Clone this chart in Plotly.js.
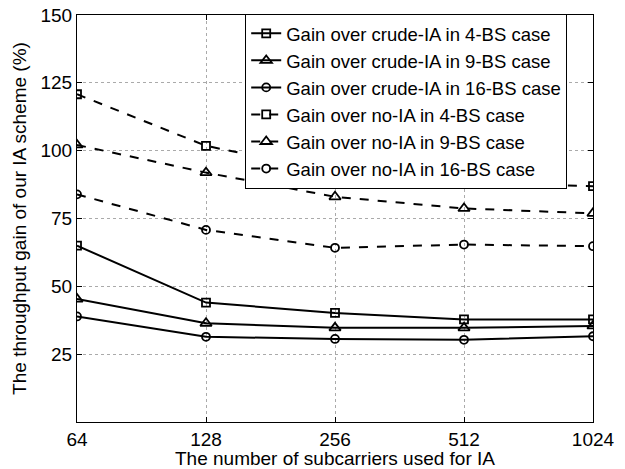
<!DOCTYPE html>
<html><head><meta charset="utf-8">
<script src="https://cdn.plot.ly/plotly-3.0.1.min.js"></script>
<style>body{margin:0;background:#fff}#c{width:625px;height:469px}</style>
</head><body><div id="c"></div>
<script>
const categories = ['64','128','256','512','1024'];
const crude4 = [65, 44, 40.2, 37.8, 37.8];
const crude9 = [45.3, 36.4, 34.7, 34.7, 35.4];
const crude16 = [38.9, 31.4, 30.6, 30.3, 31.6];
const noia4 = [120.8, 101.8, 91.9, 88.3, 86.9];
const noia9 = [102.1, 91.9, 83, 78.7, 76.9];
const noia16 = [83.9, 70.8, 64.2, 65.4, 64.8];
const names = ['Gain over crude-IA in 4-BS case','Gain over crude-IA in 9-BS case','Gain over crude-IA in 16-BS case',
  'Gain over no-IA in 4-BS case','Gain over no-IA in 9-BS case','Gain over no-IA in 16-BS case'];
const yTicks = [25,50,75,100,125,150];

const series = [crude4, crude9, crude16, noia4, noia9, noia16];
const symbols = ['square-open','triangle-up-open','circle-open','square-open','triangle-up-open','circle-open'];
const sizes = [8,10,8,8,10,8];
const traces = series.map((s,i)=>({
  x: categories, y: s, name: names[i], type:'scatter', mode:'lines+markers',
  line:{color:'#000', width:2, dash: i<3?'solid':'dash'},
  marker:{symbol:symbols[i], size:sizes[i], color:'#000', line:{color:'#000', width:1.8}}
}));
const layout = {
  width:625, height:469, paper_bgcolor:'#fff', plot_bgcolor:'#fff',
  margin:{l:77, r:32, t:15, b:47},
  font:{family:'Liberation Sans, Arial, sans-serif', color:'#000', size:19},
  xaxis:{type:'category', range:[0,4], showline:true, mirror:'ticks', linecolor:'#000', linewidth:1,
    ticks:'inside', ticklen:5, tickcolor:'#000', showgrid:true, gridcolor:'#aaa', griddash:'dot', gridwidth:1,
    tickfont:{size:19}, zeroline:false, automargin:false,
    title:{text:'The number of subcarriers used for IA', font:{size:19}, standoff:5}},
  yaxis:{range:[0,150], tickvals:yTicks, showline:true, mirror:'ticks', linecolor:'#000', linewidth:1,
    ticks:'inside', ticklen:5, tickcolor:'#000', showgrid:true, gridcolor:'#aaa', griddash:'dot', gridwidth:1,
    tickfont:{size:19}, zeroline:false, automargin:false,
    title:{text:'The throughput gain of our IA scheme (%)', font:{size:19}, standoff:8}},
  legend:{x:0.95, y:1.003, xanchor:'right', yanchor:'top', bgcolor:'#fff', bordercolor:'#000', borderwidth:1,
    font:{size:18.5}, tracegroupgap:0, itemwidth:30},
  showlegend:true
};
Plotly.newPlot('c', traces, layout, {displayModeBar:false, staticPlot:true});
</script></body></html>
